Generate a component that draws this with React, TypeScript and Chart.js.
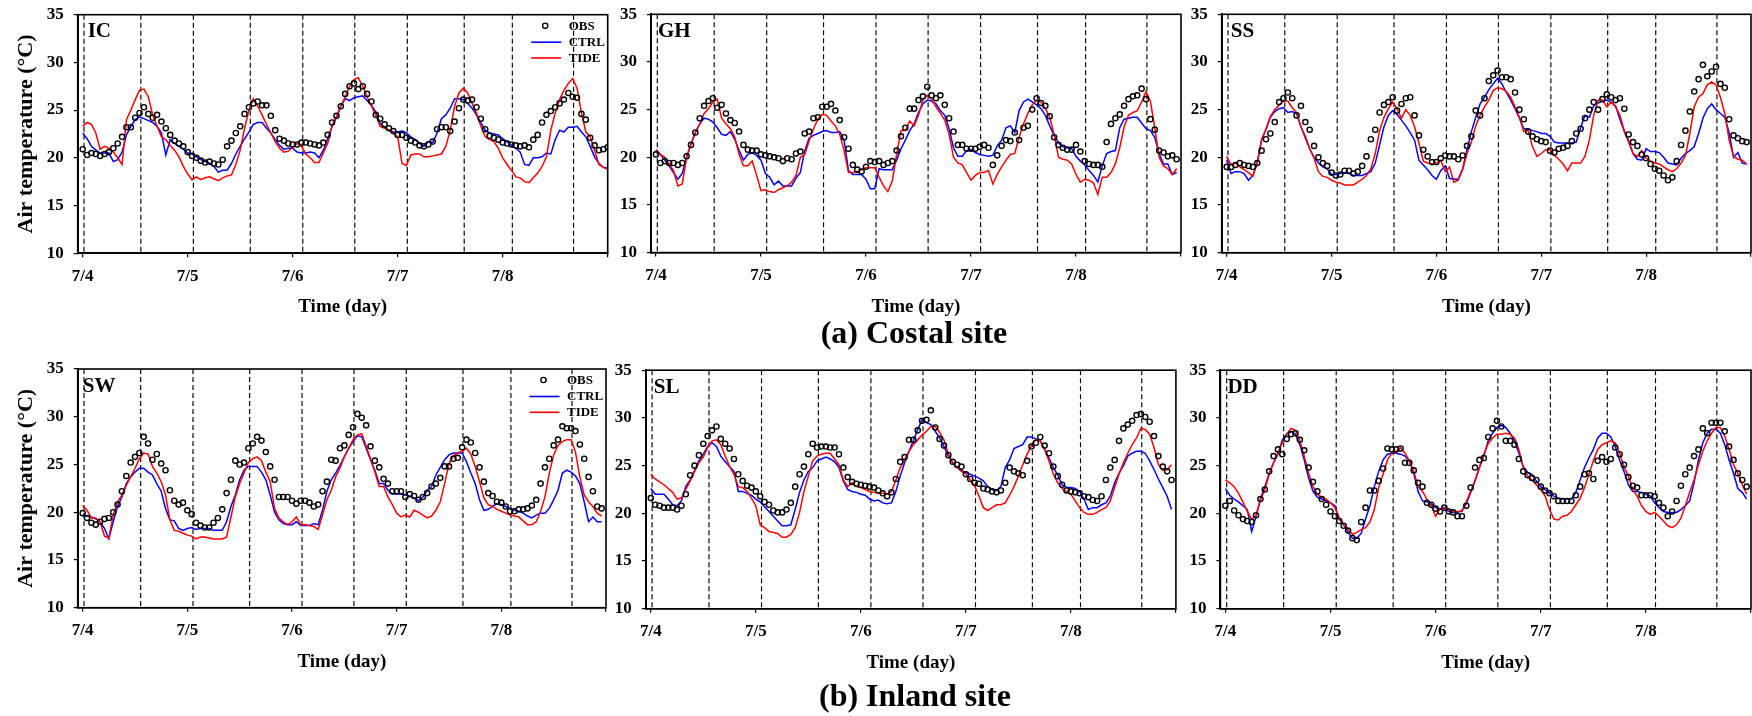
import React, { useEffect, useRef } from "react";
import { Chart, registerables } from "chart.js";

Chart.register(...registerables);

const FONT = '"Liberation Serif", "Times New Roman", Times, serif';

// x axis in hours from 7/4 00:00
const X_MIN = -1.14;
const X_MAX = 120;
const TICK_HOURS = [0, 24, 48, 72, 96, 120];
const TICK_LABELS = ["7/4", "7/5", "7/6", "7/7", "7/8", ""];
const Y_MIN = 10;
const Y_MAX = 35;
const Y_STEP = 5;
// dashed reference lines (hours)
const TIDE_LINES = [0.3, 13.3, 25.3, 38.3, 50.3, 62.2, 74.2, 87.2, 98.2, 112.2];

const SERIES_NAMES = ["OBS", "CTRL", "TIDE"];

// ---------- IC ----------
const IC_OBS = [20.9,20.3,20.5,20.4,20.2,20.4,20.6,21.0,21.5,22.2,
 23.2,23.2,24.2,24.7,25.3,24.6,24.2,24.5,23.8,23.1,
 22.4,21.8,21.5,21.2,20.6,20.2,20.0,19.7,19.5,19.6,
 19.4,19.3,19.8,21.2,21.8,22.6,23.3,24.6,25.3,25.7,
 25.9,25.5,25.5,24.4,22.9,22.0,21.8,21.5,21.4,21.4,
 21.6,21.6,21.5,21.4,21.3,21.6,22.4,23.7,24.4,25.4,
 26.7,27.5,27.8,27.2,27.5,26.7,25.9,24.5,24.1,23.5,
 23.1,22.8,22.4,22.4,22.1,21.8,21.6,21.3,21.2,21.4,
 21.7,23.0,23.2,23.2,22.8,23.8,25.2,26.1,26.0,26.1,
 25.3,24.1,23.0,22.3,22.1,21.9,21.6,21.5,21.4,21.3,
 21.2,21.3,21.1,21.9,22.4,23.7,24.5,24.9,25.3,25.7,
 26.1,26.8,26.4,26.3,24.6,24.0,22.1,21.3,20.8,20.9,
 21.1];
const IC_CTRL = [22.6,22.0,21.2,20.8,20.5,20.5,20.5,19.6,19.8,20.6,
 22.4,23.3,24.0,24.3,24.1,23.9,23.7,23.3,22.6,20.3,
 21.9,21.5,21.2,20.9,20.5,20.4,20.1,19.8,19.6,19.4,
 19.1,18.5,18.7,18.7,19.4,20.4,21.2,22.0,22.7,23.5,
 23.7,23.7,23.1,22.6,21.9,21.3,20.9,21.0,21.0,20.6,
 20.5,20.5,20.6,20.5,20.0,20.8,22.0,23.3,24.2,25.4,
 26.2,26.0,26.3,26.4,26.5,26.0,25.5,24.8,23.6,23.2,
 22.9,22.7,22.7,22.8,22.6,22.2,21.9,21.5,21.2,21.7,
 21.6,22.6,24.1,24.5,25.2,26.2,26.2,26.1,25.7,25.2,
 24.5,23.7,22.9,22.6,22.5,22.4,22.0,21.7,21.3,21.0,
 20.6,19.3,19.2,20.0,20.0,20.1,20.5,20.4,21.9,22.9,
 22.7,23.2,23.2,23.3,22.7,22.2,21.2,20.1,19.4,19.0,
 18.9];
const IC_TIDE = [23.3,23.7,23.5,22.6,20.9,21.2,21.0,20.6,20.0,19.3,
 24.0,25.0,26.1,27.1,27.2,26.4,24.5,23.3,22.2,21.9,
 21.3,20.8,20.1,19.1,18.3,17.7,18.0,17.7,17.9,18.0,
 17.8,17.6,17.9,18.1,18.2,19.3,20.8,23.1,25.0,26.2,
 25.4,24.5,23.5,22.6,21.7,21.0,20.6,20.7,21.1,21.5,
 21.2,20.4,20.0,19.5,19.5,20.5,21.5,23.4,24.3,25.4,
 26.4,27.5,28.2,28.4,27.5,26.4,25.4,24.5,23.3,23.1,
 22.9,22.6,22.2,19.4,19.2,20.3,20.4,20.4,20.1,20.1,
 20.2,20.3,20.4,21.2,22.9,25.4,26.8,27.3,26.8,25.7,
 24.7,23.3,22.2,21.9,21.7,21.0,20.0,19.3,18.7,18.0,
 17.9,17.5,17.4,17.9,18.4,19.1,20.1,22.9,24.7,26.1,
 27.1,27.8,28.3,27.3,24.7,22.7,22.2,20.8,19.3,19.0,
 18.8];

// ---------- GH ----------
const GH_OBS = [20.3,19.4,19.6,19.4,19.4,19.2,19.4,20.1,21.3,22.6,
 24.1,25.4,25.9,26.2,25.2,25.5,24.6,23.9,23.6,22.7,
 21.3,20.8,20.7,20.7,20.3,20.2,20.1,20.0,19.9,19.6,
 19.9,19.8,20.4,20.6,22.5,22.7,24.1,24.2,25.3,25.3,
 25.6,24.9,23.9,22.1,20.9,19.2,18.7,18.5,19.0,19.6,
 19.5,19.6,19.2,19.4,19.6,20.7,22.2,23.1,25.1,25.1,
 26.0,26.4,27.4,26.5,26.2,26.5,25.5,24.1,22.7,21.3,
 21.3,20.9,20.9,20.9,21.1,21.3,21.0,19.2,20.2,21.2,
 21.8,21.7,22.6,21.8,23.1,23.3,25.0,26.2,25.7,25.4,
 24.3,22.1,21.3,21.0,20.8,20.8,21.3,20.6,19.6,19.3,
 19.2,19.2,19.0,21.6,23.5,24.1,24.5,25.4,26.1,26.4,
 26.5,27.2,26.1,24.0,22.9,20.7,20.5,20.1,20.2,19.8];
const GH_CTRL = [20.8,20.3,19.7,19.1,18.4,17.7,18.3,20.0,21.4,22.6,
 23.5,24.1,24.0,23.7,23.1,22.4,22.3,22.7,21.9,20.7,
 19.7,20.3,20.5,20.2,19.7,18.3,17.9,17.1,17.5,17.0,
 17.0,17.0,17.8,18.4,20.7,22.0,22.3,22.5,22.7,22.8,
 22.6,22.6,22.7,21.8,18.6,18.2,18.2,18.2,17.7,16.7,
 16.7,18.8,18.7,18.7,18.7,19.7,20.9,21.8,22.8,23.5,
 24.7,25.6,26.0,25.9,25.6,24.9,24.4,23.0,21.0,20.1,
 20.1,20.7,20.8,20.5,20.3,20.2,20.1,20.2,21.2,21.8,
 23.1,23.3,22.6,24.9,25.8,26.1,25.8,25.5,25.1,24.4,
 23.3,22.3,21.5,21.1,21.0,20.9,20.1,19.6,19.2,18.6,
 18.1,17.4,19.1,20.4,20.6,20.7,23.1,24.0,24.1,24.2,
 24.2,23.6,23.0,22.8,22.1,20.4,19.3,19.3,18.2,18.4];
const GH_TIDE = [20.8,20.3,20.0,19.3,18.6,17.0,17.2,20.0,21.4,22.6,
 23.5,24.6,25.1,25.8,26.1,24.1,23.5,23.0,22.1,20.3,
 19.1,19.1,19.6,18.1,16.5,16.6,16.4,16.3,16.6,16.8,
 17.0,17.4,18.1,20.0,20.3,21.7,23.0,24.0,24.5,24.4,
 23.8,23.3,22.4,20.7,18.4,18.4,18.5,18.7,18.9,18.9,
 18.9,17.9,17.0,16.4,17.5,20.3,22.8,22.8,23.8,23.3,
 24.4,26.0,26.5,26.1,25.3,24.6,23.9,22.4,20.0,19.4,
 19.2,18.4,17.6,18.1,18.4,18.4,18.6,17.2,18.2,19.0,
 19.7,20.3,20.4,22.1,23.5,24.6,25.5,26.0,25.8,25.1,
 24.2,22.4,20.0,19.8,19.7,19.3,18.2,17.4,17.7,17.6,
 17.3,16.1,17.9,17.9,18.4,19.3,21.0,23.2,24.4,24.7,
 24.9,25.8,26.9,25.9,23.1,20.0,19.1,18.8,18.2,18.8];

// ---------- SS ----------
const SS_OBS = [19.0,19.0,19.2,19.4,19.2,19.1,19.0,19.4,20.7,21.9,
 22.5,23.7,25.8,26.2,26.8,26.2,24.4,25.4,23.7,22.9,
 21.2,20.0,19.4,19.1,18.4,18.1,18.2,18.6,18.6,18.3,
 18.5,19.1,20.1,21.9,22.9,24.7,25.5,25.8,26.3,24.9,
 25.6,26.2,26.3,24.4,22.3,20.8,20.1,19.5,19.5,19.9,
 20.2,20.1,20.1,19.8,20.2,21.2,22.2,24.9,24.4,26.2,
 28.0,28.6,29.1,28.4,28.4,28.2,26.8,25.0,24.0,22.7,
 22.2,21.9,21.7,21.6,20.7,20.5,20.9,21.0,21.2,21.7,
 22.5,23.0,24.1,25.0,25.8,25.0,26.1,26.6,26.3,26.0,
 26.2,25.1,22.4,21.6,21.2,20.3,19.9,19.3,18.8,18.6,
 18.1,17.6,17.9,19.6,21.3,22.8,24.8,26.9,28.2,29.7,
 28.5,29.0,29.5,27.7,27.3,24.0,22.3,22.0,21.7,21.6];
const SS_CTRL = [19.7,18.3,18.5,18.5,18.3,17.6,18.1,19.4,21.9,22.9,
 24.2,24.8,25.1,25.2,24.7,24.8,24.6,23.2,22.2,20.9,
 20.0,19.4,19.0,18.8,18.2,18.2,18.3,18.4,18.3,18.1,
 18.1,18.1,18.3,18.5,19.4,21.3,23.2,24.4,24.9,24.5,
 23.9,23.3,22.6,21.8,19.7,19.2,18.7,18.1,17.7,18.6,
 19.1,17.8,17.7,17.7,18.8,20.8,22.7,24.2,25.6,26.3,
 27.1,27.7,28.3,27.7,26.8,26.0,25.1,24.1,23.0,23.0,
 22.8,22.7,22.5,22.5,22.2,21.6,21.5,21.5,21.5,21.5,
 21.6,23.1,24.4,24.2,25.4,25.7,25.9,26.0,25.8,25.4,
 24.0,22.7,21.6,20.4,19.8,19.7,20.9,20.6,20.6,20.5,
 20.0,19.4,19.3,19.2,19.9,20.4,20.7,21.1,22.5,24.1,
 25.1,25.6,25.0,24.6,24.2,22.6,20.0,20.5,19.4,19.3];
const SS_TIDE = [20.1,19.2,19.4,19.0,18.7,18.4,18.0,19.5,21.8,23.0,
 24.3,25.0,25.5,25.9,25.9,25.2,24.7,23.2,22.0,20.9,
 19.9,18.5,18.0,17.9,17.6,17.4,17.3,17.1,17.1,17.1,
 17.4,17.7,18.1,18.8,20.4,22.8,24.2,25.1,25.8,25.1,
 24.1,25.0,24.4,23.2,21.5,19.6,19.4,19.3,19.4,19.7,
 18.5,19.0,17.4,17.6,18.7,20.4,21.6,23.3,24.4,25.3,
 26.0,27.0,27.3,27.2,26.9,26.3,25.3,24.2,22.7,22.8,
 21.1,20.1,20.4,20.8,20.8,20.2,19.8,19.3,18.6,19.4,
 19.4,19.4,20.1,21.8,24.4,26.0,26.0,25.3,25.8,25.3,
 24.4,22.8,21.8,20.4,20.1,20.7,19.9,19.6,19.4,19.3,
 19.0,18.7,18.5,18.8,19.4,20.2,22.5,25.3,26.3,26.7,
 27.6,27.9,27.6,26.3,24.6,21.8,20.1,19.8,19.7,19.3];

// ---------- SW ----------
const SW_OBS = [19.9,19.4,18.9,18.7,19.0,19.3,19.4,20.0,20.8,22.2,
 23.8,25.2,25.8,26.2,27.9,27.2,25.5,26.1,25.1,24.4,
 22.3,21.2,20.8,21.0,20.2,19.8,18.9,18.6,18.4,18.4,
 18.9,19.4,20.3,22.0,23.4,25.4,25.0,25.2,26.7,27.2,
 27.9,27.5,26.3,24.8,23.4,21.6,21.6,21.6,21.2,20.9,
 21.2,21.2,21.0,20.6,20.8,22.2,23.2,25.5,25.4,26.7,
 27.0,28.1,28.9,30.3,29.9,29.1,26.9,25.4,24.7,23.5,
 23.0,22.2,22.2,22.2,21.6,21.9,21.7,21.3,21.6,22.0,
 22.7,23.0,23.6,24.8,24.8,25.6,25.7,26.8,27.6,27.3,
 26.2,24.7,23.2,22.0,21.7,21.1,21.0,20.6,20.1,20.1,
 20.3,20.3,20.4,20.7,21.3,23.0,24.7,25.6,27.0,27.6,
 29.0,28.8,28.8,28.5,27.1,25.6,23.7,22.2,20.6,20.4];
const SW_CTRL = [19.7,19.6,19.5,19.3,19.0,18.3,17.2,19.0,20.6,21.6,
 23.0,23.7,24.2,24.6,24.6,24.2,23.9,23.0,22.2,20.4,
 19.2,19.1,18.3,18.1,18.3,18.4,18.2,18.3,18.3,18.3,
 18.1,18.1,18.1,19.0,20.6,21.8,23.4,24.4,24.8,24.8,
 24.8,24.2,23.4,21.8,20.0,19.2,18.8,18.7,18.7,19.0,
 18.6,18.6,18.6,18.8,18.7,20.2,22.2,23.4,24.1,24.9,
 25.8,26.7,27.4,28.0,27.9,26.7,25.5,24.4,23.0,23.0,
 22.3,21.9,21.9,21.9,21.8,21.7,21.5,21.2,21.6,22.3,
 22.7,23.9,24.7,25.5,26.0,26.2,26.2,26.2,25.3,24.1,
 23.0,21.3,20.2,20.3,20.6,20.9,20.8,20.6,20.4,20.2,
 20.1,19.9,19.6,19.4,19.7,19.9,19.9,20.4,21.3,22.3,
 24.1,24.4,24.2,23.8,23.0,21.1,19.0,19.5,19.0,19.0];
const SW_TIDE = [20.7,20.2,19.4,19.4,19.0,17.5,17.3,19.7,21.1,21.8,
 22.8,23.7,24.6,25.6,26.2,26.1,24.8,24.1,23.2,21.8,
 19.2,18.1,18.0,17.8,17.6,17.5,17.2,17.4,17.4,17.3,
 17.2,17.2,17.2,17.4,19.5,21.6,23.0,24.1,25.2,25.6,
 25.8,25.4,24.2,23.2,20.4,19.4,19.0,18.7,19.0,19.5,
 18.7,18.7,18.6,18.5,18.2,19.7,21.3,22.3,23.7,24.6,
 25.8,26.7,27.6,28.1,28.2,26.9,25.6,24.2,22.7,22.7,
 21.6,20.8,19.9,19.5,19.7,19.5,20.2,20.0,19.7,19.4,
 19.6,20.2,21.1,23.0,25.1,25.9,26.2,26.4,26.7,26.1,
 24.8,23.2,21.5,20.8,20.6,20.3,20.1,19.9,19.7,19.6,
 19.5,19.1,18.7,18.7,19.0,20.1,21.6,24.1,26.0,27.0,
 27.4,27.6,27.6,26.3,23.7,21.8,21.1,20.6,19.9,19.6];

// ---------- SL ----------
const SL_OBS = [21.6,20.9,20.8,20.6,20.6,20.6,20.4,20.8,22.0,24.0,
 25.0,26.1,27.3,28.1,28.7,29.1,27.8,27.3,26.8,25.7,
 24.1,23.4,22.9,22.7,22.3,21.8,21.2,20.9,20.3,20.1,
 20.1,20.4,21.1,22.8,24.1,24.9,26.2,27.3,26.9,27.0,
 27.0,26.9,26.9,26.2,24.8,23.8,23.3,23.1,23.0,22.9,
 22.8,22.7,22.4,22.1,21.8,22.2,23.6,25.4,25.9,27.7,
 27.7,28.7,29.7,29.8,30.8,29.0,27.8,27.1,26.1,25.4,
 25.1,24.9,24.1,23.6,23.2,23.1,22.6,22.5,22.3,22.2,
 22.4,23.2,24.8,24.4,24.2,24.0,25.5,27.0,27.4,28.0,
 27.1,26.3,24.9,23.9,23.0,22.4,22.3,22.2,22.1,21.8,
 21.7,21.4,21.3,21.8,23.5,24.8,25.6,27.6,28.9,29.3,
 29.7,30.3,30.4,30.1,29.6,28.1,26.0,24.9,24.4,23.5];
const SL_CTRL = [22.6,22.0,22.0,22.0,21.5,20.9,20.8,21.3,22.8,23.5,
 24.5,25.5,26.2,27.0,27.4,27.0,26.0,25.4,24.9,24.4,
 22.3,22.3,22.1,21.9,21.5,21.2,20.7,20.2,19.7,19.2,
 18.7,18.7,18.8,20.4,22.2,23.5,24.4,24.8,25.5,25.7,
 25.9,25.7,25.4,24.8,23.4,22.5,22.3,22.2,22.0,21.9,
 21.5,21.3,21.4,21.1,21.0,21.1,22.3,23.9,25.3,26.5,
 27.6,28.8,29.8,29.5,29.3,28.6,27.9,27.0,26.0,25.3,
 24.8,24.5,24.3,24.1,23.9,23.7,23.4,22.8,22.5,22.4,
 22.8,24.8,25.6,26.8,27.0,27.2,28.0,28.0,27.8,27.6,
 26.7,25.8,24.8,24.0,23.0,22.7,22.7,22.6,22.3,21.5,
 20.4,20.6,20.6,20.9,21.1,21.8,23.2,24.2,25.0,26.0,
 26.3,26.5,26.5,26.3,25.5,24.6,23.6,22.7,21.8,20.4];
const SL_TIDE = [24.1,23.6,23.3,23.0,22.6,22.2,21.5,21.6,22.5,23.4,
 24.4,25.3,25.9,26.9,27.6,27.7,27.2,26.0,24.9,24.1,
 22.8,22.7,22.3,21.6,20.8,18.8,18.5,18.1,18.0,17.9,
 17.5,17.5,17.8,18.5,20.1,22.3,23.9,25.5,26.0,26.2,
 26.3,26.3,25.7,25.1,23.5,22.8,23.2,22.8,22.7,22.5,
 22.3,22.2,22.1,22.1,22.0,22.3,23.5,24.8,25.6,26.5,
 27.2,27.7,28.2,28.6,29.1,29.1,28.5,27.7,26.2,25.3,
 24.8,24.4,24.1,23.5,22.9,21.8,20.6,20.3,20.6,20.9,
 20.9,21.1,21.9,22.8,23.9,25.1,26.2,27.1,27.7,27.6,
 26.7,25.5,24.1,23.2,22.6,22.3,22.0,21.3,20.6,20.1,
 19.9,19.9,20.1,20.4,20.6,21.3,22.7,24.1,25.3,26.3,
 27.2,27.9,28.9,28.8,28.3,26.9,25.1,24.5,24.6,25.1];

// ---------- DD ----------
const DD_OBS = [20.8,21.3,20.3,19.8,19.4,19.2,19.1,19.8,21.5,22.5,
 24.4,26.0,26.7,26.2,27.8,28.3,28.4,27.7,26.6,24.8,
 23.3,22.3,21.5,20.9,20.2,19.7,19.2,18.7,18.2,17.4,
 17.2,19.1,20.6,22.4,22.4,23.4,24.7,26.8,26.7,26.7,
 26.8,25.3,25.3,24.5,23.2,22.8,21.1,20.9,20.5,20.2,
 20.6,20.2,20.1,19.7,19.7,20.8,22.7,24.8,25.6,25.8,
 28.0,28.9,29.7,29.1,27.6,27.6,27.2,25.7,24.4,24.0,
 23.7,23.5,22.8,22.4,22.1,21.8,21.3,21.3,21.3,21.3,
 21.9,22.8,24.1,24.2,23.6,25.5,25.9,25.4,25.7,26.9,
 26.2,25.1,23.8,22.9,22.7,21.9,21.9,21.9,21.8,21.1,
 20.6,19.7,20.2,21.3,22.9,24.1,24.8,26.0,26.7,28.9,
 28.4,29.5,29.5,29.5,28.6,27.0,25.6,24.2,23.5,22.8];
const DD_CTRL = [22.6,21.9,21.5,21.2,20.8,20.4,18.1,19.7,21.5,22.8,
 24.2,25.3,26.2,27.7,28.3,28.6,28.3,27.2,25.6,23.7,
 22.3,21.7,21.5,21.3,21.1,20.8,19.4,18.8,18.0,17.4,
 17.4,17.9,19.4,20.8,22.8,24.4,25.6,26.2,26.3,26.3,
 26.2,26.0,25.5,24.2,22.3,21.3,21.2,21.0,20.6,20.4,
 20.6,20.2,20.1,20.1,20.3,21.0,22.2,23.4,24.8,26.0,
 27.6,28.4,29.0,29.2,29.0,28.4,27.6,26.3,24.9,24.3,
 24.1,23.4,22.8,22.5,22.1,21.8,21.6,21.5,21.5,21.5,
 22.2,23.5,24.8,25.8,26.7,27.9,28.4,28.4,28.0,27.0,
 25.6,24.4,23.0,22.3,22.3,22.2,22.0,21.8,21.1,20.6,
 20.2,20.1,20.1,20.1,20.4,20.8,21.3,23.2,25.6,27.4,
 28.4,28.8,28.8,28.4,27.2,25.6,24.2,22.6,22.2,21.5];
const DD_TIDE = [23.5,23.2,22.8,22.1,21.2,20.2,19.4,19.8,21.4,22.5,
 24.1,25.3,26.3,27.4,28.3,28.9,28.7,27.6,26.0,24.2,
 22.8,22.0,21.7,21.5,21.1,20.6,19.5,18.8,18.3,17.8,
 18.0,18.3,18.5,19.1,20.4,22.7,24.1,25.6,26.3,26.5,
 26.9,26.3,25.5,24.4,22.8,22.3,21.5,20.8,19.7,20.5,
 20.5,20.4,20.2,20.2,20.2,21.2,22.3,23.5,24.8,26.2,
 27.3,27.9,28.3,28.3,28.4,28.3,27.9,26.7,24.8,23.9,
 23.5,23.0,22.5,21.8,20.4,19.4,19.3,19.7,19.8,20.2,
 20.9,21.6,22.7,24.1,25.5,26.7,27.2,27.4,27.6,27.4,
 26.3,24.9,23.9,22.5,21.8,20.8,20.2,19.9,20.1,19.7,
 19.2,18.7,18.5,18.8,19.5,20.8,22.2,23.5,25.1,26.5,
 27.6,28.4,29.0,29.0,28.1,26.7,25.1,24.2,23.0,22.0];

type PanelCfg = {
  name: string;
  obs: number[];
  ctrl: number[];
  tide: number[];
  box: [number, number, number, number]; // plot area: left, top, right, bottom (px)
  yTitle: boolean;
  legend: boolean;
  labelDx: number;
};

const PANELS: PanelCfg[] = [
  { name: "IC", obs: IC_OBS, ctrl: IC_CTRL, tide: IC_TIDE, box: [77.7, 14.7, 607.7, 253.2], yTitle: true, legend: true, labelDx: 10 },
  { name: "GH", obs: GH_OBS, ctrl: GH_CTRL, tide: GH_TIDE, box: [651, 14.3, 1181, 252.6], yTitle: false, legend: false, labelDx: 7 },
  { name: "SS", obs: SS_OBS, ctrl: SS_CTRL, tide: SS_TIDE, box: [1221.7, 14.3, 1751, 252.7], yTitle: false, legend: false, labelDx: 9 },
  { name: "SW", obs: SW_OBS, ctrl: SW_CTRL, tide: SW_TIDE, box: [77.7, 369, 606, 607.7], yTitle: true, legend: true, labelDx: 5 },
  { name: "SL", obs: SL_OBS, ctrl: SL_CTRL, tide: SL_TIDE, box: [645.8, 370.2, 1175.9, 608.8], yTitle: false, legend: false, labelDx: 8 },
  { name: "DD", obs: DD_OBS, ctrl: DD_CTRL, tide: DD_TIDE, box: [1220.4, 370.2, 1751, 608.8], yTitle: false, legend: false, labelDx: 7 },
];

const toXY = (vals: number[]) => vals.map((v, i) => ({ x: i, y: v }));

function Panel({ cfg }: { cfg: PanelCfg }) {
  const ref = useRef<HTMLCanvasElement | null>(null);
  const [l, t, r, b] = cfg.box;
  const cLeft = Math.floor(l) - 72;
  const cTop = Math.floor(t) - 10;
  const cRight = Math.ceil(r) + 8;
  const cBottom = Math.ceil(b) + 80;
  const W = cRight - cLeft;
  const H = cBottom - cTop;
  const yW = l - cLeft;
  const padTop = t - cTop;
  const padRight = cRight - r;
  const xH = cBottom - b;

  useEffect(() => {
    if (!ref.current) return;
    const decor = {
      id: "decor",
      beforeDatasetsDraw(chart: any) {
        const { ctx, chartArea: a, scales } = chart;
        const x = scales.x;
        ctx.save();
        ctx.beginPath();
        ctx.rect(a.left, a.top, a.right - a.left, a.bottom - a.top);
        ctx.clip();
        ctx.strokeStyle = "#000";
        ctx.lineWidth = 1.15;
        ctx.setLineDash([5, 3]);
        for (const h of TIDE_LINES) {
          const px = x.getPixelForValue(h);
          ctx.beginPath();
          ctx.moveTo(px, a.top);
          ctx.lineTo(px, a.bottom);
          ctx.stroke();
        }
        ctx.restore();
      },
      afterDraw(chart: any) {
        const { ctx, chartArea: a } = chart;
        ctx.save();
        ctx.strokeStyle = "#000";
        ctx.lineWidth = 1.6;
        ctx.setLineDash([]);
        ctx.strokeRect(a.left, a.top, a.right - a.left, a.bottom - a.top);
        ctx.fillStyle = "#000";
        ctx.font = `bold 21px ${FONT}`;
        ctx.textBaseline = "alphabetic";
        ctx.textAlign = "left";
        ctx.fillText(cfg.name, a.left + cfg.labelDx, a.top + 22.5);
        if (cfg.legend) {
          const rows = [a.top + 11, a.top + 27.5, a.top + 43.3];
          ctx.font = `bold 13px ${FONT}`;
          ctx.textBaseline = "middle";
          const tx = a.right - 39;
          // OBS
          ctx.lineWidth = 1.4;
          ctx.beginPath();
          ctx.arc(a.right - 62.5, rows[0], 2.6, 0, Math.PI * 2);
          ctx.stroke();
          ctx.fillText(SERIES_NAMES[0], tx, rows[0] + 0.5);
          // CTRL
          ctx.lineWidth = 1.6;
          ctx.strokeStyle = "#0000FF";
          ctx.beginPath();
          ctx.moveTo(a.right - 76.5, rows[1]);
          ctx.lineTo(a.right - 46.5, rows[1]);
          ctx.stroke();
          ctx.fillText(SERIES_NAMES[1], tx, rows[1] + 0.5);
          // TIDE
          ctx.strokeStyle = "#FF0000";
          ctx.beginPath();
          ctx.moveTo(a.right - 76.5, rows[2]);
          ctx.lineTo(a.right - 46.5, rows[2]);
          ctx.stroke();
          ctx.fillText(SERIES_NAMES[2], tx, rows[2] + 0.5);
        }
        ctx.restore();
      },
    };

    const chart = new Chart(ref.current, {
      type: "line",
      data: {
        datasets: [
          {
            label: SERIES_NAMES[0],
            data: toXY(cfg.obs),
            showLine: false,
            pointRadius: 2.6,
            pointBorderWidth: 1.4,
            pointBorderColor: "#000",
            pointBackgroundColor: "rgba(0,0,0,0)",
            borderColor: "#000",
            order: 0,
          },
          {
            label: SERIES_NAMES[1],
            data: toXY(cfg.ctrl),
            borderColor: "#0000FF",
            borderWidth: 1.5,
            pointRadius: 0,
            tension: 0,
            fill: false,
            order: 2,
          },
          {
            label: SERIES_NAMES[2],
            data: toXY(cfg.tide),
            borderColor: "#FF0000",
            borderWidth: 1.5,
            pointRadius: 0,
            tension: 0,
            fill: false,
            order: 1,
          },
        ],
      },
      options: {
        responsive: false,
        animation: false,
        devicePixelRatio: 1,
        events: [],
        layout: { padding: { left: 0, top: padTop, right: padRight, bottom: 0 } },
        plugins: { legend: { display: false }, tooltip: { enabled: false }, title: { display: false } },
        scales: {
          x: {
            type: "linear",
            position: "bottom",
            min: X_MIN,
            max: X_MAX,
            afterBuildTicks: (s: any) => {
              s.ticks = TICK_HOURS.map((v) => ({ value: v }));
            },
            afterFit: (s: any) => {
              s.height = xH;
              s.paddingLeft = 0;
              s.paddingRight = 0;
              s.paddingTop = 0;
              s.paddingBottom = 0;
            },
            ticks: {
              autoSkip: false,
              maxRotation: 0,
              minRotation: 0,
              padding: 9,
              color: "#000",
              font: { family: FONT, size: 17, weight: "bold" },
              callback: (v: any) => {
                const i = TICK_HOURS.indexOf(Number(v));
                return i >= 0 ? TICK_LABELS[i] : "";
              },
            },
            grid: { drawOnChartArea: false, drawTicks: true, tickLength: 4, color: "#000", lineWidth: 1.2 },
            border: { display: true, color: "#000", width: 1.6 },
            title: {
              display: true,
              text: "Time (day)",
              color: "#000",
              font: { family: FONT, size: 19, weight: "bold" },
              padding: { top: 0, bottom: xH - 54 - 11.4 },
            },
          },
          y: {
            type: "linear",
            min: Y_MIN,
            max: Y_MAX,
            afterFit: (s: any) => {
              s.width = yW;
              s.paddingLeft = 0;
              s.paddingRight = 0;
              s.paddingTop = 0;
              s.paddingBottom = 0;
            },
            ticks: {
              stepSize: Y_STEP,
              padding: 10,
              color: "#000",
              font: { family: FONT, size: 17, weight: "bold" },
            },
            grid: { drawOnChartArea: false, drawTicks: true, tickLength: 4, color: "#000", lineWidth: 1.2 },
            border: { display: true, color: "#000", width: 2 },
            title: {
              display: cfg.yTitle,
              text: "Air temperature (°C)",
              color: "#000",
              font: { family: FONT, size: 22, weight: "bold" },
              padding: { top: 26 - cLeft - 13.2, bottom: 0 },
            },
          },
        },
      } as any,
      plugins: [decor],
    });
    return () => chart.destroy();
  }, []);

  return (
    <canvas
      ref={ref}
      width={W}
      height={H}
      style={{ position: "absolute", left: cLeft, top: cTop, width: W, height: H }}
    />
  );
}

export default function App() {
  const titleStyle: React.CSSProperties = {
    position: "absolute",
    width: 600,
    textAlign: "center",
    font: `bold 32px ${FONT}`,
    lineHeight: "32px",
    color: "#000",
    whiteSpace: "nowrap",
  };
  return (
    <div
      style={{
        position: "absolute",
        left: 0,
        top: 0,
        width: 1752,
        height: 716,
        overflow: "hidden",
        background: "#fff",
      }}
    >
      {PANELS.map((p) => (
        <Panel key={p.name} cfg={p} />
      ))}
      <div style={{ ...titleStyle, left: 914 - 300, top: 343 - 26.8 }}>(a) Costal site</div>
      <div style={{ ...titleStyle, left: 915 - 300, top: 706 - 26.8 }}>(b) Inland site</div>
    </div>
  );
}
